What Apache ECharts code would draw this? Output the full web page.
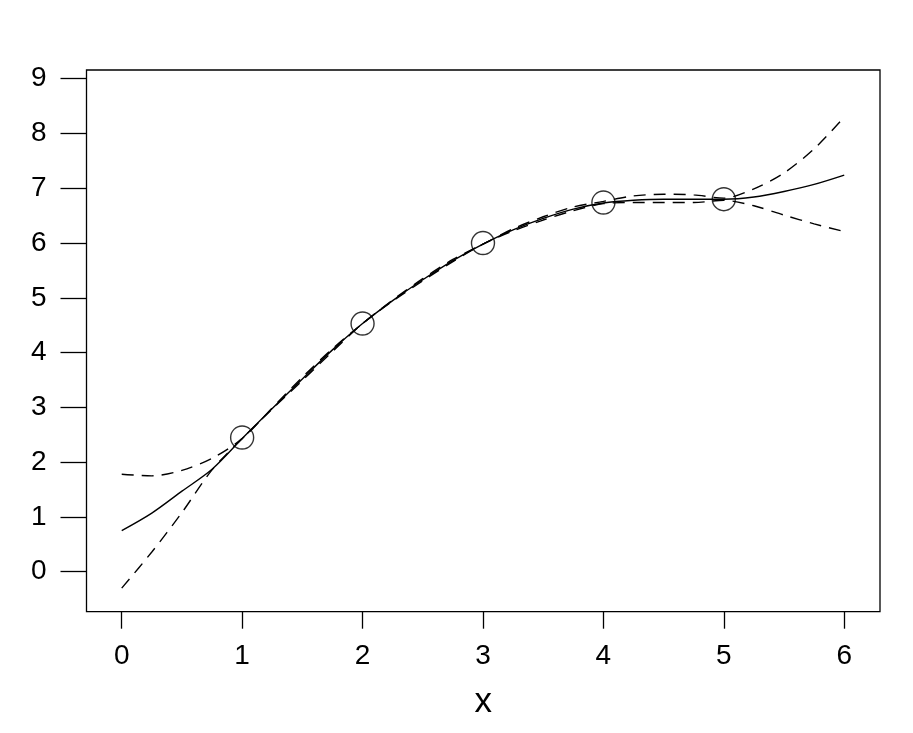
<!DOCTYPE html>
<html>
<head>
<meta charset="utf-8">
<script src="https://cdn.jsdelivr.net/npm/echarts@6/dist/echarts.min.js"></script>
<style>html,body{margin:0;padding:0;background:#fff;}#c{width:913px;height:733px;}</style>
</head>
<body>
<div id="c"></div>
<script>
const xs    = [0,0.25,0.5,0.75,1,1.25,1.5,1.75,2,2.25,2.5,2.75,3,3.25,3.5,3.75,4,4.25,4.5,4.75,5,5.25,5.5,5.75,6];
const fit   = [0.75,1.07,1.47,1.87,2.43,2.98,3.52,4.05,4.53,4.95,5.33,5.68,5.98,6.24,6.45,6.62,6.73,6.78,6.80,6.80,6.80,6.84,6.94,7.07,7.24];
const upper = [1.78,1.75,1.85,2.07,2.43,2.99,3.55,4.07,4.53,4.96,5.35,5.70,5.98,6.26,6.48,6.66,6.76,6.86,6.89,6.88,6.82,6.99,7.28,7.72,8.30];
const lower = [-0.30,0.36,1.08,1.86,2.43,2.97,3.49,4.02,4.53,4.94,5.31,5.66,5.98,6.22,6.42,6.59,6.72,6.74,6.74,6.74,6.78,6.68,6.51,6.35,6.21];
const ptX   = [1,2,3,4,5];
const ptY   = [2.45,4.53,6.00,6.74,6.80];
const xTicks = [0,1,2,3,4,5,6];
const yTicks = [0,1,2,3,4,5,6,7,8,9];
const xLabel = 'x';

const pairs = (a,b) => a.map((v,i)=>[v,b[i]]);
const font = 'Liberation Sans, Arial, sans-serif';
const chart = echarts.init(document.getElementById('c'), null, {renderer:'canvas'});
chart.setOption({
  animation:false,
  backgroundColor:'#fff',
  grid:{left:86.5,right:33,top:70,bottom:121.3,show:true,borderColor:'#000',borderWidth:1.3,backgroundColor:'transparent'},
  xAxis:{type:'value',min:-0.2925,max:6.297,position:'bottom',
    name:xLabel,nameLocation:'middle',nameGap:73,
    nameTextStyle:{fontFamily:font,fontSize:35,color:'#000'},
    axisLine:{show:false,onZero:false},splitLine:{show:false},
    axisTick:{show:true,length:17,customValues:xTicks,lineStyle:{color:'#000',width:1.3}},
    axisLabel:{margin:31,customValues:xTicks,fontFamily:font,fontSize:28,color:'#000'}},
  yAxis:{type:'value',min:-0.73,max:9.159,position:'left',
    axisLine:{show:false,onZero:false},splitLine:{show:false},
    axisTick:{show:true,length:26,customValues:yTicks,lineStyle:{color:'#000',width:1.3}},
    axisLabel:{margin:40,customValues:yTicks,fontFamily:font,fontSize:28,color:'#000'}},
  series:[
    {type:'line',data:pairs(xs,fit),smooth:0.3,showSymbol:false,lineStyle:{color:'#000',width:1.4}},
    {type:'line',data:pairs(xs,upper),smooth:0.3,showSymbol:false,lineStyle:{color:'#000',width:1.4,type:[12,8]}},
    {type:'line',data:pairs(xs,lower),smooth:0.3,showSymbol:false,lineStyle:{color:'#000',width:1.4,type:[12,8]}},
    {type:'scatter',data:pairs(ptX,ptY),symbol:'circle',symbolSize:23,
      itemStyle:{color:'rgba(0,0,0,0)',borderColor:'#000',borderWidth:1.4}}
  ]
});
</script>
</body>
</html>
